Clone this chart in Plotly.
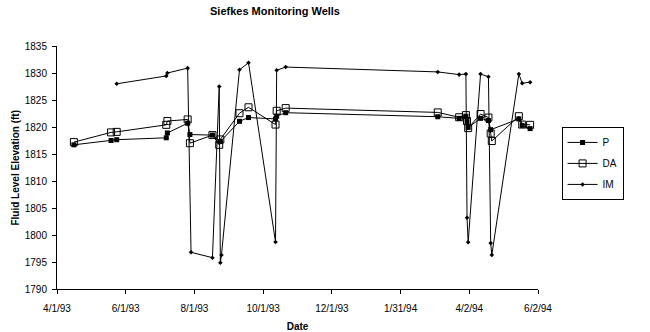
import plotly.graph_objects as go

# ---- data ----
p_dates = ["1993-04-16", "1993-05-19", "1993-05-24", "1993-07-07", "1993-07-08", "1993-07-26",
           "1993-07-28", "1993-08-17", "1993-08-24", "1993-09-10", "1993-09-18", "1993-10-12",
           "1993-10-13", "1993-10-21", "1994-03-05", "1994-03-24", "1994-03-30", "1994-03-31",
           "1994-04-01", "1994-04-12", "1994-04-19", "1994-04-21", "1994-05-16", "1994-05-19",
           "1994-05-26"]
p_values = [1816.7, 1817.5, 1817.65, 1818.0, 1818.9, 1820.7,
            1818.6, 1818.5, 1817.3, 1821.05, 1821.75, 1821.5,
            1822.0, 1822.65, 1821.9, 1821.6, 1822.0, 1821.0,
            1819.9, 1821.6, 1821.2, 1819.5, 1821.5, 1820.3,
            1819.7]

da_dates = ["1993-04-16", "1993-05-19", "1993-05-24", "1993-07-07", "1993-07-08", "1993-07-26",
            "1993-07-28", "1993-08-17", "1993-08-23", "1993-08-24", "1993-09-10", "1993-09-18",
            "1993-10-12", "1993-10-13", "1993-10-21", "1994-03-05", "1994-03-24", "1994-03-30",
            "1994-03-31", "1994-04-01", "1994-04-12", "1994-04-19", "1994-04-21", "1994-04-22",
            "1994-05-16", "1994-05-19", "1994-05-26"]
da_values = [1817.2, 1819.0, 1819.1, 1820.4, 1821.1, 1821.4,
             1817.0, 1818.5, 1816.7, 1817.7, 1822.55, 1823.65,
             1820.45, 1823.0, 1823.5, 1822.7, 1821.8, 1822.2,
             1821.1, 1819.8, 1822.4, 1821.75, 1818.8, 1817.4,
             1822.0, 1820.45, 1820.4]

im_dates = ["1993-05-24", "1993-07-07", "1993-07-08", "1993-07-26", "1993-07-29", "1993-08-17",
            "1993-08-23", "1993-08-24", "1993-08-25", "1993-09-10", "1993-09-18", "1993-10-12",
            "1993-10-13", "1993-10-21", "1994-03-05", "1994-03-24", "1994-03-30", "1994-03-31",
            "1994-04-01", "1994-04-12", "1994-04-19", "1994-04-21", "1994-04-22", "1994-05-16",
            "1994-05-19", "1994-05-26"]
im_values = [1828.0, 1829.45, 1830.0, 1830.9, 1796.8, 1795.8,
             1827.5, 1794.85, 1796.3, 1830.6, 1831.9, 1798.7,
             1830.5, 1831.1, 1830.2, 1829.7, 1829.8, 1803.2,
             1798.65, 1829.8, 1829.3, 1798.5, 1796.3, 1829.8,
             1828.1, 1828.3]

x_tick_vals = ["1993-04-01", "1993-06-01", "1993-08-01", "1993-10-01",
               "1993-12-01", "1994-01-31", "1994-04-02", "1994-06-02"]
x_tick_text = ["4/1/93", "6/1/93", "8/1/93", "10/1/93", "12/1/93", "1/31/94", "4/2/94", "6/2/94"]
y_tick_vals = [1790, 1795, 1800, 1805, 1810, 1815, 1820, 1825, 1830, 1835]

FONT = "Liberation Sans, Arial, sans-serif"

fig = go.Figure()
fig.add_trace(go.Scatter(
    x=p_dates, y=p_values, name="P", mode="lines+markers", legendgroup="a",
    line=dict(color="black", width=1),
    marker=dict(symbol="square", size=5, color="black", line=dict(width=0))))
fig.add_trace(go.Scatter(
    x=da_dates, y=da_values, name="DA", mode="lines+markers", legendgroup="b",
    line=dict(color="black", width=1),
    marker=dict(symbol="square-open", size=7, color="black", line=dict(width=1))))
fig.add_trace(go.Scatter(
    x=im_dates, y=im_values, name="IM", mode="lines+markers", legendgroup="c",
    line=dict(color="black", width=1),
    marker=dict(symbol="diamond", size=3.5, color="black", line=dict(width=0))))

fig.update_layout(
    width=650, height=332,
    margin=dict(l=57, r=112, t=46, b=43),
    paper_bgcolor="white", plot_bgcolor="white",
    font=dict(family=FONT, size=10, color="black"),
    title=dict(text="<b>Siefkes Monitoring Wells</b>", x=275/650, xanchor="center",
               xref="container", y=1 - 11/332, yref="container", yanchor="middle",
               font=dict(family=FONT, size=11, color="black")),
    showlegend=True,
    legend=dict(x=1.049, xanchor="left", y=0.667, yanchor="top",
                bordercolor="black", borderwidth=1, bgcolor="white",
                font=dict(family=FONT, size=10, color="black"),
                traceorder="grouped", tracegroupgap=2),
    xaxis=dict(type="date", range=["1993-04-01", "1994-06-02"], automargin=False,
               tickmode="array", tickvals=x_tick_vals, ticktext=x_tick_text,
               showgrid=False, zeroline=False, showline=True, linecolor="black", linewidth=1,
               ticks="outside", ticklen=4, tickcolor="black", ticklabelstandoff=6,
               title=dict(text="<b>Date</b>", font=dict(family=FONT, size=10)),
               tickfont=dict(family=FONT, size=10)),
    yaxis=dict(range=[1790, 1835], tickmode="array", tickvals=y_tick_vals, automargin=False,
               showgrid=False, zeroline=False, showline=True, linecolor="black", linewidth=1,
               ticks="outside", ticklen=4, tickcolor="black", ticklabelstandoff=3,
               tickfont=dict(family=FONT, size=10)),
    annotations=[dict(text="<b>Fluid Level Elevation (ft)</b>", textangle=-90,
                      xref="paper", yref="paper", x=(15 - 57) / 481.6, y=0.5,
                      xanchor="center", yanchor="middle", showarrow=False,
                      font=dict(family=FONT, size=10, color="black"))],
)

fig.write_html("out.html")
